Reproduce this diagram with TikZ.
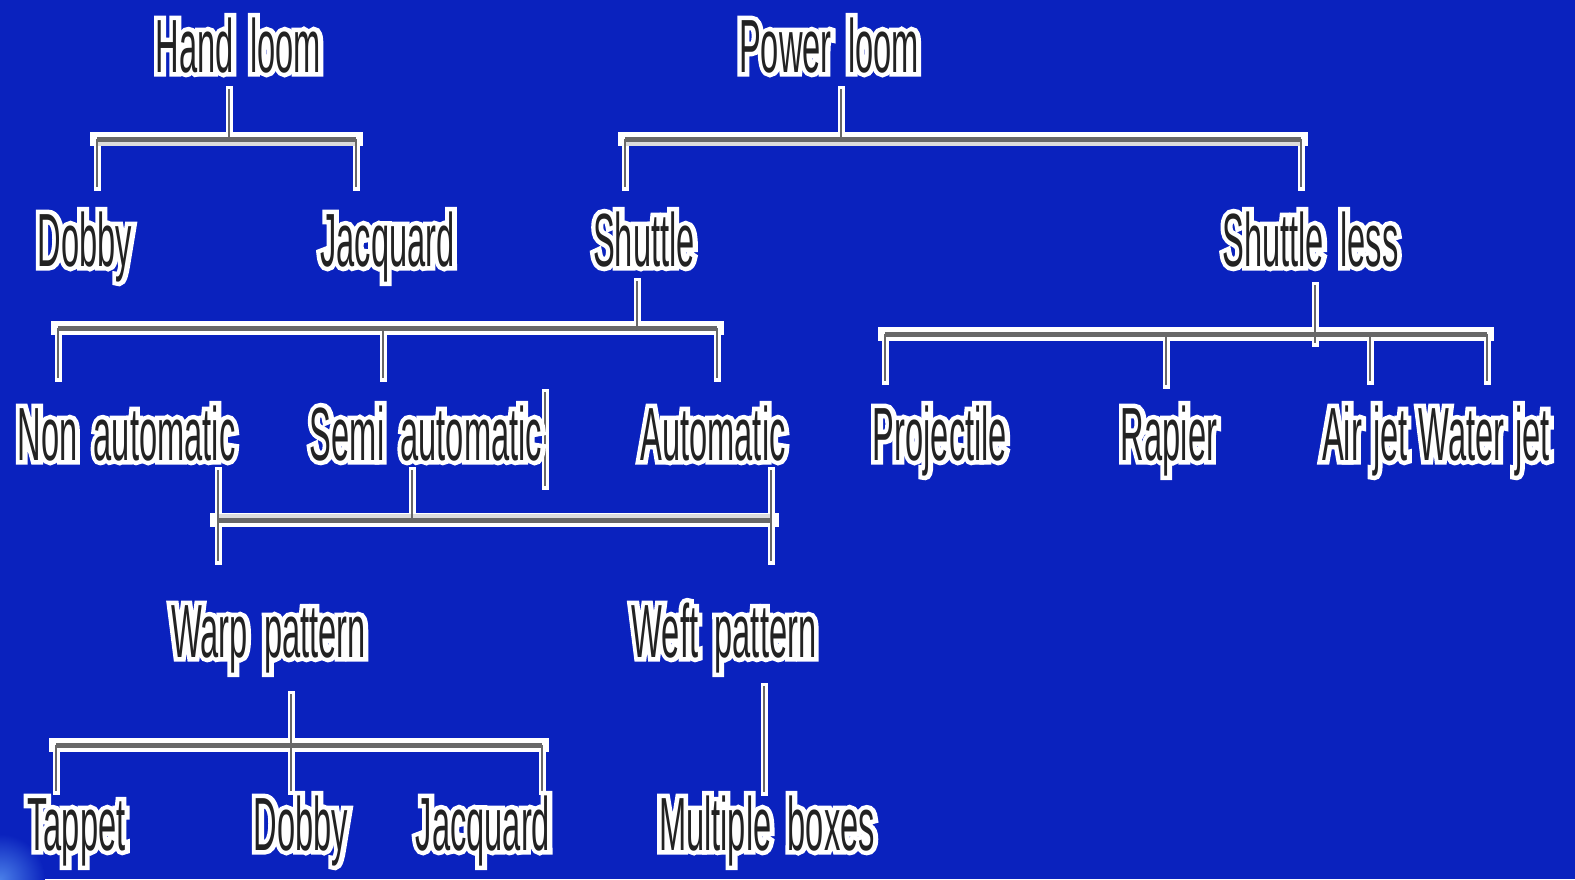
\documentclass[tikz,border=0pt]{standalone}
\usepackage{fontspec}
\setmainfont{Liberation Sans}
\newfontfamily\condfont[FakeStretch=0.433, WordSpace=1.8]{Liberation Sans}
\definecolor{bg}{HTML}{0A22BE}
\definecolor{glow}{HTML}{4A7FE8}
\definecolor{ink}{HTML}{222222}
\definecolor{linegray}{HTML}{686868}
\definecolor{lightband}{HTML}{DCDCDC}
\newcommand\lblfont{\condfont\fontsize{75.4}{80}\selectfont}
% name, centre x, baseline y, text : white stroked halo + dark text
\newcommand\lbl[4]{%
  \node[anchor=base, inner sep=0pt, text=white, font=\lblfont] at (#2,#3)
    {\special{pdf:literal direct 1 Tr 9 w 0 j 2 M 1 1 1 RG}#4\special{pdf:literal direct 0 Tr}};
  \node[anchor=base, inner sep=0pt, text=ink, font=\lblfont] (#1) at (#2,#3) {#4};
}
\begin{document}
\begin{tikzpicture}[x=1pt,y=-1pt]
\fill[bg] (0,0) rectangle (1575,879);
\useasboundingbox (0,0) rectangle (1575,879);
\begin{scope}
\clip (0,0) rectangle (1575,879);
\shade[inner color=glow, outer color=bg] (0,879) circle (45);
\end{scope}

% ---------- junction coordinates ----------
% hand loom
\coordinate (hlS) at (229,89);  \coordinate (hlJ) at (229,139);
\coordinate (hlL) at (97,139);  \coordinate (hlR) at (356,139);
\coordinate (hlLd) at (97,187); \coordinate (hlRd) at (356,187);
% power loom
\coordinate (plS) at (841,89);  \coordinate (plJ) at (841,139);
\coordinate (plL) at (625,139); \coordinate (plR) at (1301,139);
\coordinate (plLd) at (625,187); \coordinate (plRd) at (1301,187);
% shuttle
\coordinate (shS) at (637,281); \coordinate (shJ) at (637,328);
\coordinate (shL) at (58,328);  \coordinate (shM) at (383,328); \coordinate (shR) at (717,328);
\coordinate (shLd) at (58,378); \coordinate (shMd) at (383,378); \coordinate (shRd) at (717,378);
% shuttle less
\coordinate (slS) at (1315,285); \coordinate (slE) at (1315,343);
\coordinate (slA) at (885,334);  \coordinate (slB) at (1166,334);
\coordinate (slC) at (1370,334); \coordinate (slD) at (1487,334);
\coordinate (slAd) at (885,381); \coordinate (slBd) at (1166,385);
\coordinate (slCd) at (1370,381); \coordinate (slDd) at (1487,381);
% stray bar after "Semi automatic"
\coordinate (stT) at (545,392); \coordinate (stB) at (545,486);
% automatic types -> patterns
\coordinate (naT) at (218,470); \coordinate (naB) at (218,561);
\coordinate (saT) at (412,470); \coordinate (saB) at (412,520);
\coordinate (auT) at (771,470); \coordinate (auB) at (771,561);
\coordinate (pL) at (217,520);  \coordinate (pR) at (772,520);
% warp pattern
\coordinate (wpS) at (291,694); \coordinate (wpB) at (291,791);
\coordinate (wpL) at (56,745);  \coordinate (wpR) at (542,745);
\coordinate (wpLd) at (56,791); \coordinate (wpRd) at (542,791);
% weft pattern
\coordinate (wfT) at (764,686); \coordinate (wfB) at (764,792);

% ---------- connectors ----------
\tikzset{
  barhalo/.style={draw=white, line width=14pt, line cap=rect},
  stemhalo/.style={draw=white, line width=7pt, line cap=rect},
  barcore/.style={draw=linegray, line width=5pt},
  stemcore/.style={draw=linegray, line width=2.5pt},
}
\draw[barhalo] (hlL) -- (hlR)  (plL) -- (plR)  (shL) -- (shR)  (slA) -- (slD)
  (pL) -- (pR)  (wpL) -- (wpR);
\draw[stemhalo]
  (hlS) -- (hlJ)  (hlL) -- (hlLd)  (hlR) -- (hlRd)
  (plS) -- (plJ)  (plL) -- (plLd)  (plR) -- (plRd)
  (shS) -- (shJ)  (shL) -- (shLd)  (shM) -- (shMd)  (shR) -- (shRd)
  (slS) -- (slE)  (slA) -- (slAd)  (slB) -- (slBd)  (slC) -- (slCd)  (slD) -- (slDd)
  (stT) -- (stB)
  (naT) -- (naB)  (saT) -- (saB)  (auT) -- (auB)
  (wpS) -- (wpB)  (wpL) -- (wpLd)  (wpR) -- (wpRd)
  (wfT) -- (wfB);
% light grey bands
\draw[draw=lightband, line width=4pt]
  ([yshift=-4.5pt]hlL) -- ([yshift=-4.5pt]hlR)
  ([yshift=-4.5pt]plL) -- ([yshift=-4.5pt]plR)
  ([yshift=4.5pt]pL) -- ([yshift=4.5pt]pR);
\draw[barcore] (hlL) -- (hlR)  (plL) -- (plR)  (shL) -- (shR)  (slA) -- (slD)
  (pL) -- (pR)  (wpL) -- (wpR);
\draw[stemcore]
  (hlS) -- (hlJ)  (hlL) -- (hlLd)  (hlR) -- (hlRd)
  (plS) -- (plJ)  (plL) -- (plLd)  (plR) -- (plRd)
  (shS) -- (shJ)  (shL) -- (shLd)  (shM) -- (shMd)  (shR) -- (shRd)
  (slS) -- (slE)  (slA) -- (slAd)  (slB) -- (slBd)  (slC) -- (slCd)  (slD) -- (slDd)
  (stT) -- (stB)
  (naT) -- (naB)  (saT) -- (saB)  (auT) -- (auB)
  (wpS) -- (wpB)  (wpL) -- (wpLd)  (wpR) -- (wpRd)
  (wfT) -- (wfB);

% ---------- labels ----------
\lbl{hand}{238.5}{72}{Hand loom}
\lbl{power}{829}{72}{Power loom}

\lbl{dobbyA}{85}{266}{Dobby}
\lbl{jacqA}{387.5}{266}{Jacquard}
\lbl{shuttle}{644}{266}{Shuttle}
\lbl{shless}{1310.5}{266}{Shuttle less}

\lbl{nonauto}{126.5}{460}{Non automatic}
\lbl{semiauto}{426}{460}{Semi automatic}
\lbl{auto}{713}{460}{Automatic}
\lbl{proj}{940}{460}{Projectile}
\lbl{rapier}{1169}{460}{Rapier}
\lbl{airwater}{1436}{460}{Air\hspace{11pt}jet\hspace{11pt}Water\hspace{11pt}jet}

\lbl{warp}{268.5}{657}{Warp pattern}
\lbl{weft}{724}{657}{Weft pattern}

\lbl{tappet}{76.5}{850}{Tappet}
\lbl{dobbyB}{301}{850}{Dobby}
\lbl{jacqB}{483}{850}{Jacquard}
\lbl{multi}{767}{850}{Multiple boxes}
\end{tikzpicture}
\end{document}
